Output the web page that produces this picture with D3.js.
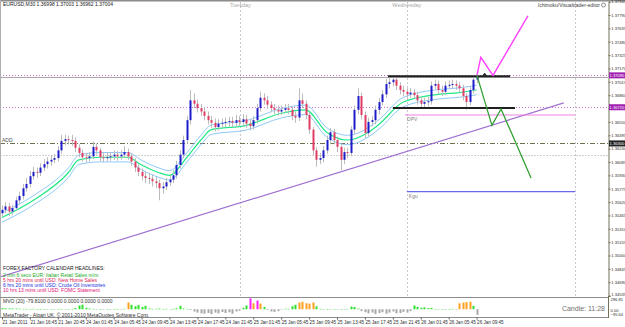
<!DOCTYPE html>
<html>
<head>
<meta charset="utf-8">
<script src="https://cdn.jsdelivr.net/npm/d3@7"></script>
<style>
body { margin: 0; background: #fff; }
svg { display: block; font-family: "Liberation Sans", Arial, sans-serif; }
</style>
</head>
<body>
<svg id="chart" width="625" height="327"></svg>
<script>
// EURUSD,M30 - bar data
var firstOpen = 1.3549;
var closes = [
1.3553,1.3557,1.3551,1.3555,1.3564,1.3569,1.3578,1.3583,1.3592,1.3597,
1.3596,1.3602,1.3606,1.3609,1.3611,1.3613,1.3622,1.3633,1.3635,1.3634,
1.3633,1.3625,1.3619,1.3614,1.3613,1.3615,1.3626,1.3622,1.3614,1.3613,
1.3614,1.3615,1.3617,1.3615,1.3617,1.3620,1.3615,1.3609,1.3602,1.3597,
1.3592,1.3590,1.3589,1.3586,1.3584,1.3578,1.3580,1.3585,1.3588,1.3593,
1.3605,1.3617,1.3634,1.3657,1.3680,1.3676,1.3671,1.3667,1.3662,1.3657,
1.3654,1.3649,1.3653,1.3654,1.3655,1.3656,1.3654,1.3657,1.3655,1.3658,
1.3653,1.3650,1.3657,1.3671,1.3683,1.3680,1.3675,1.3671,1.3669,1.3667,
1.3669,1.3671,1.3669,1.3662,1.3660,1.3680,1.3676,1.3663,1.3646,1.3622,
1.3611,1.3613,1.3622,1.3634,1.3643,1.3634,1.3626,1.3611,1.3620,1.3619,
1.3646,1.3669,1.3685,1.3663,1.3642,1.3655,1.3657,1.3669,1.3678,1.3687,
1.3699,1.3701,1.3704,1.3697,1.3692,1.3690,1.3687,1.3689,1.3686,1.3680,
1.3676,1.3678,1.3679,1.3697,1.3699,1.3692,1.3690,1.3697,1.3698,1.3699,
1.3697,1.3694,1.3685,1.3678,1.3692,1.3704,1.3707];
var highs = [
1.3558,1.3562,1.3561,1.3559,1.3568,1.3574,1.3583,1.3590,1.3598,1.3603,
1.3602,1.3607,1.3612,1.3614,1.3616,1.3618,1.3627,1.3640,1.3640,1.3639,
1.3640,1.3637,1.3629,1.3623,1.3619,1.3620,1.3632,1.3630,1.3625,1.3619,
1.3619,1.3620,1.3622,1.3621,1.3622,1.3627,1.3624,1.3619,1.3613,1.3606,
1.3601,1.3597,1.3596,1.3594,1.3591,1.3588,1.3585,1.3590,1.3593,1.3599,
1.3610,1.3622,1.3639,1.3662,1.3692,1.3688,1.3681,1.3676,1.3672,1.3667,
1.3662,1.3659,1.3658,1.3659,1.3660,1.3661,1.3661,1.3663,1.3662,1.3664,
1.3663,1.3658,1.3662,1.3676,1.3690,1.3688,1.3685,1.3679,1.3676,1.3674,
1.3674,1.3676,1.3676,1.3673,1.3667,1.3694,1.3688,1.3680,1.3667,1.3649,
1.3626,1.3619,1.3627,1.3639,1.3648,1.3647,1.3638,1.3629,1.3625,1.3625,
1.3650,1.3674,1.3694,1.3689,1.3667,1.3660,1.3662,1.3674,1.3683,1.3692,
1.3705,1.3709,1.3709,1.3708,1.3701,1.3697,1.3694,1.3694,1.3693,1.3690,
1.3684,1.3683,1.3684,1.3702,1.3704,1.3703,1.3697,1.3702,1.3703,1.3704,
1.3703,1.3701,1.3698,1.3688,1.3696,1.3708,1.3711];
var lows = [
1.3545,1.3549,1.3546,1.3547,1.3552,1.3560,1.3565,1.3574,1.3579,1.3588,
1.3590,1.3592,1.3598,1.3601,1.3604,1.3607,1.3609,1.3618,1.3628,1.3629,
1.3627,1.3620,1.3614,1.3609,1.3608,1.3609,1.3612,1.3617,1.3609,1.3608,
1.3609,1.3610,1.3611,1.3610,1.3611,1.3613,1.3611,1.3604,1.3597,1.3592,
1.3587,1.3584,1.3583,1.3580,1.3578,1.3564,1.3572,1.3576,1.3581,1.3584,
1.3589,1.3601,1.3613,1.3630,1.3652,1.3671,1.3666,1.3662,1.3657,1.3652,
1.3648,1.3644,1.3645,1.3648,1.3649,1.3650,1.3649,1.3649,1.3650,1.3650,
1.3648,1.3645,1.3646,1.3653,1.3667,1.3675,1.3670,1.3666,1.3664,1.3662,
1.3663,1.3665,1.3664,1.3657,1.3654,1.3656,1.3671,1.3658,1.3641,1.3616,
1.3603,1.3606,1.3608,1.3618,1.3629,1.3629,1.3620,1.3599,1.3606,1.3613,
1.3615,1.3641,1.3664,1.3658,1.3636,1.3638,1.3650,1.3652,1.3664,1.3674,
1.3683,1.3694,1.3696,1.3692,1.3687,1.3685,1.3682,1.3683,1.3681,1.3675,
1.3671,1.3670,1.3673,1.3675,1.3693,1.3687,1.3685,1.3686,1.3693,1.3694,
1.3692,1.3689,1.3680,1.3669,1.3674,1.3688,1.3700];
var opens = [firstOpen].concat(closes.slice(0, -1));

// moving average read at a few bars, envelope deviation in percent
var maBars = [0, 9, 19, 22, 28, 36, 40, 45, 48, 53, 57, 60, 70, 80, 87, 93, 99, 105, 108, 115, 125, 131, 136];
var maValues = [1.3544,1.3564,1.3596,1.3611,1.3614,1.3614,1.3605,1.3596,1.3593,1.3614,1.3634,1.3646,
                1.3651,1.3665,1.3669,1.3643,1.3634,1.3643,1.3652,1.3678,1.3687,1.3689,1.3692];
var envDeviation = 0.04;

// MVO(20) histogram
var mvo = [
30,25,20,22,18,15,12,10,8,12,
6,5,4,-5,3,-8,5,10,-6,4,
8,30,100,120,40,20,10,-10,5,-6,
8,-4,6,10,-5,12,180,120,80,110,
60,90,20,10,15,20,8,12,-6,10,
25,90,20,10,-20,-60,-90,-110,-120,-100,
-130,-90,-110,-70,-100,-80,-120,-60,-40,40,
100,290,160,230,150,60,-20,-60,-70,-50,
-10,15,10,80,120,180,200,160,150,180,
80,10,-8,6,-10,5,-6,8,-5,10,
70,60,20,-50,-80,-110,-90,-130,-100,-80,
-120,-90,-60,-110,-100,-70,-90,-50,100,60,
40,50,30,35,8,-6,5,-8,6,10,
-5,160,180,190,200,90,-150];

// axes
var priceTicks = [1.37945,1.37790,1.37635,1.37480,1.37325,1.37170,1.37015,1.36860,1.36705,1.36550,
                  1.36395,1.36240,1.36085,1.35930,1.35775,1.35620,1.35465,1.35310,1.35155,1.35000,
                  1.34845,1.34690,1.34535];
var timeBars = [0,8,16,24,32,40,48,56,64,72,80,88,96,104,112,120,128,136];
var timeLabels = ["21 Jan 2011","21 Jan 16:45","21 Jan 20:45","24 Jan 01:45","24 Jan 05:45","24 Jan 09:45",
                  "24 Jan 13:45","24 Jan 17:45","24 Jan 21:45","25 Jan 01:45","25 Jan 05:45","25 Jan 09:45",
                  "25 Jan 13:45","25 Jan 17:45","25 Jan 21:45","26 Jan 01:45","26 Jan 05:45","26 Jan 09:45"];
var mvoTicks = [296.81, 0, -95.64];
var daySeps = [68.3, 116, 164.2];
var dayNames = ["Tuesday", "Wednesday", ""];

// drawn objects (bar index, price)
var levelHigh = 1.3709, levelAsk = 1.3707, levelMid = 1.3672;
var levelAdd = 1.3630, levelGrey = 1.3617;
var boxTop = [[110.6, 1.3708], [145.6, 1.3708]];
var boxBottom = [[112, 1.3671], [147, 1.3671]];
var dpvLine = [[115.5, 1.3663], [164.2, 1.3663]];
var kguLine = [[116, 1.3574], [164.2, 1.3574]];
var trendLine = [[-0.6, 1.3475], [161, 1.3677]];
var bullPath = [[136.1, 1.3709], [137.2, 1.3730], [140.7, 1.3709], [150.7, 1.3778]];
var bearPath = [[136.1, 1.3709], [140.4, 1.3651], [143, 1.3670], [151.6, 1.3590]];
var headlines = [
  "2 min 6 secs EUR: Italian Retail Sales m/m",
  "5 hrs 20 mins until USD: New Home Sales",
  "6 hrs 20 mins until USD: Crude Oil Inventories",
  "10 hrs 13 mins until USD: FOMC Statement"];
var headlineColors = ["#22aa22", "#dd2255", "#2233dd", "#dd1177"];

var W = 625, H = 327;
var plotRight = 608, mainTop = 2, mainBottom = 296, subTop = 298, subBottom = 317;

var x = d3.scaleLinear().domain([0, 136]).range([2, 476.6]);
var y = d3.scaleLinear().domain([1.34530, 1.37941]).range([mainBottom, mainTop]);
var yMvo = d3.scaleLinear().domain([-180, 300]).range([subBottom - 1, subTop]);

var svg = d3.select("#chart");

svg.append("rect").attr("width", W).attr("height", H).attr("fill", "#fff");

var main = svg.append("g");
main.append("clipPath").attr("id", "clipMain")
  .append("rect").attr("x", 1).attr("y", mainTop).attr("width", plotRight - 1).attr("height", mainBottom - mainTop);
var plot = main.append("g").attr("clip-path", "url(#clipMain)");

// day separators
plot.selectAll("line.sep").data(daySeps).enter().append("line")
  .attr("class", "sep")
  .attr("x1", function(d) { return Math.round(x(d)) + 0.5; })
  .attr("x2", function(d) { return Math.round(x(d)) + 0.5; })
  .attr("y1", mainTop).attr("y2", mainBottom)
  .attr("stroke", "#c8c8c8").attr("stroke-dasharray", "2,2");
svg.selectAll("text.day").data(daySeps).enter().append("text")
  .attr("x", function(d) { return x(d); })
  .attr("y", 7)
  .attr("text-anchor", "middle")
  .attr("font-size", 5.5).attr("fill", "#a8a8a8")
  .text(function(d, i) { return dayNames[i]; });

// horizontal levels
function hline(price, color, dash, width) {
  plot.append("line")
    .attr("x1", 0).attr("x2", plotRight)
    .attr("y1", Math.round(y(price)) + 0.5).attr("y2", Math.round(y(price)) + 0.5)
    .attr("stroke", color).attr("stroke-width", width || 1)
    .attr("stroke-dasharray", dash);
}
hline(levelGrey, "#d0d0d0", "2,1");
hline(levelAdd, "#6f6f50", "5,2,1,2");
hline(levelMid, "#d070d0", "1,2");
hline(levelAsk, "#a8a8a8", null);
hline(levelHigh, "#d070d0", "1,2");

var seg = d3.line().x(function(d) { return x(d[0]); }).y(function(d) { return y(d[1]); });

plot.append("path").attr("d", seg(trendLine)).attr("fill", "none")
  .attr("stroke", "#a070d0").attr("stroke-width", 1.2);
plot.append("path").attr("d", seg(dpvLine)).attr("fill", "none")
  .attr("stroke", "#f080e8").attr("stroke-width", 1);
plot.append("path").attr("d", seg(kguLine)).attr("fill", "none")
  .attr("stroke", "#6a6af0").attr("stroke-width", 1.2);

plot.append("text").attr("x", 2).attr("y", y(levelAdd) - 1.5)
  .attr("font-size", 5).attr("fill", "#505050").text("ADD");
plot.append("text").attr("x", x(dpvLine[0][0]) + 2).attr("y", y(dpvLine[0][1]) + 6)
  .attr("font-size", 5).attr("fill", "#808080").text("DPV");
plot.append("text").attr("x", x(kguLine[0][0]) + 2).attr("y", y(kguLine[0][1]) + 6)
  .attr("font-size", 5).attr("fill", "#808080").text("Kgu");

// moving average with envelopes
var maLine = d3.line().curve(d3.curveMonotoneX)
  .x(function(d) { return x(d[0]); }).y(function(d) { return y(d[1]); });
var maPts = maBars.map(function(b, i) { return [b, maValues[i]]; });
var upPts = maPts.map(function(d) { return [d[0], d[1] * (1 + envDeviation / 100)]; });
var dnPts = maPts.map(function(d) { return [d[0], d[1] * (1 - envDeviation / 100)]; });
plot.append("path").attr("d", maLine(upPts)).attr("fill", "none").attr("stroke", "#90c8f8");
plot.append("path").attr("d", maLine(dnPts)).attr("fill", "none").attr("stroke", "#90c8f8");
plot.append("path").attr("d", maLine(maPts)).attr("fill", "none").attr("stroke", "#20e888").attr("stroke-width", 1.2);

// candles
var bars = plot.append("g").selectAll("g").data(closes).enter().append("g");
bars.append("line")
  .attr("x1", function(d, i) { return Math.round(x(i)) + 0.5; })
  .attr("x2", function(d, i) { return Math.round(x(i)) + 0.5; })
  .attr("y1", function(d, i) { return y(highs[i]); })
  .attr("y2", function(d, i) { return y(lows[i]); })
  .attr("stroke", "#bcbcbc");
bars.append("rect")
  .attr("x", function(d, i) { return Math.round(x(i)) - 0.5; })
  .attr("y", function(d, i) { return y(Math.max(opens[i], d)); })
  .attr("width", 2)
  .attr("height", function(d, i) { return Math.max(1, Math.abs(y(opens[i]) - y(d))); })
  .attr("fill", function(d, i) { return d >= opens[i] ? "#1c1cc8" : "#e03c64"; });

// box and projections
plot.append("path").attr("d", seg(boxTop)).attr("stroke", "#202020").attr("stroke-width", 2).attr("fill", "none");
plot.append("path").attr("d", seg(boxBottom)).attr("stroke", "#202020").attr("stroke-width", 2).attr("fill", "none");
plot.append("path").attr("d", "M-2.5,1.5 L0,-1.5 L2.5,1.5 Z")
  .attr("transform", "translate(" + [x(138.3), y(boxTop[0][1]) - 2] + ")").attr("fill", "#202020");
plot.append("path").attr("d", seg(bullPath)).attr("fill", "none").attr("stroke", "#ff40ff").attr("stroke-width", 1.4);
plot.append("path").attr("d", seg(bearPath)).attr("fill", "none").attr("stroke", "#34a034").attr("stroke-width", 1.3);

// headlines block
var hl = svg.append("g").attr("font-size", 5);
hl.append("text").attr("x", 3).attr("y", 270).attr("fill", "#202020").text("FOREX FACTORY CALENDAR HEADLINES:");
hl.selectAll("text.h").data(headlines).enter().append("text")
  .attr("x", 3).attr("y", function(d, i) { return 276.5 + i * 5.2; })
  .attr("fill", function(d, i) { return headlineColors[i]; })
  .text(function(d) { return d; });

svg.append("text").attr("x", 3).attr("y", 6).attr("font-size", 5).attr("fill", "#202020")
  .text("EURUSD,M30  1.36998 1.37003 1.36962 1.37004");
svg.append("text").attr("x", 600).attr("y", 7).attr("font-size", 5).attr("text-anchor", "end").attr("fill", "#404040")
  .text("Ichimoku/Visualtrader-editor");
svg.append("circle").attr("cx", 603.5).attr("cy", 5).attr("r", 2).attr("fill", "none").attr("stroke", "#606060").attr("stroke-width", 0.7);

// MVO window
var sub = svg.append("g");
sub.selectAll("rect").data(mvo).enter().append("rect")
  .attr("x", function(d, i) { return Math.round(x(i)) - 0.5; })
  .attr("width", 2)
  .attr("y", function(d) { return yMvo(Math.max(0, d)); })
  .attr("height", function(d) { return Math.max(0.5, Math.abs(yMvo(d) - yMvo(0))); })
  .attr("fill", function(d) {
    if (d < 0) return "#a8a8a8";
    if (d >= 220) return "#ff20ff";
    if (d >= 140) return "#ffa020";
    return "#30e030";
  });
sub.append("text").attr("x", 3).attr("y", 302.5).attr("font-size", 5).attr("fill", "#303030")
  .text("MVO (20) -79.8100 0.0000 0.0000 0.0000 0.0000");
sub.append("text").attr("x", 3).attr("y", 316.5).attr("font-size", 5).attr("fill", "#303030")
  .text("MetaTrader - Alpari UK, \u00a9 2001-2010 MetaQuotes Software Corp.");
sub.append("text").attr("x", 605).attr("y", 311).attr("font-size", 7).attr("text-anchor", "end").attr("fill", "#707070")
  .text("Candle: 11:28");

// frame lines
svg.append("line").attr("x1", 0).attr("x2", W).attr("y1", 0.5).attr("y2", 0.5).attr("stroke", "#8c8c8c").attr("stroke-width", 2);
svg.append("line").attr("x1", 0.5).attr("x2", 0.5).attr("y1", 0).attr("y2", subBottom).attr("stroke", "#b0b0b0");
svg.append("line").attr("x1", 0).attr("x2", plotRight).attr("y1", 297.5).attr("y2", 297.5).attr("stroke", "#8c8c8c");
svg.append("line").attr("x1", 0).attr("x2", plotRight).attr("y1", subBottom + 0.5).attr("y2", subBottom + 0.5).attr("stroke", "#8c8c8c");

// highlighted price tags drawn on the axis
var tags = [[levelHigh, "#a020b0"], [levelMid, "#a020b0"], [levelAdd, "#202020"]];

// price axis
var axisFont = 4.1;
var yAxis = d3.axisRight(y).tickValues(priceTicks).tickFormat(d3.format(".5f")).tickSize(2).tickPadding(0.8);
var gy = svg.append("g").attr("transform", "translate(" + (plotRight + 0.5) + ",0)").call(yAxis);
gy.select(".domain").attr("stroke", "#707058");
gy.selectAll("line").attr("stroke", "#707058");
gy.selectAll("text").attr("font-size", axisFont).attr("fill", "#303030").attr("font-family", "Liberation Sans, Arial");
gy.selectAll(".tick").filter(function(d) { return y(d) > mainBottom - 3; }).select("text").attr("dy", "-0.1em");
// a tag covers the tick label it sits on
gy.selectAll(".tick").filter(function(d) {
  return tags.some(function(t) { return Math.abs(y(t[0]) - y(d)) < 5; });
}).select("text").remove();
svg.append("line").attr("x1", plotRight + 0.5).attr("x2", plotRight + 0.5).attr("y1", mainBottom).attr("y2", subBottom + 1).attr("stroke", "#707058");

var mvoAxis = d3.axisRight(yMvo).tickValues(mvoTicks).tickFormat(d3.format(".2f")).tickSize(0).tickPadding(2);
var gm = svg.append("g").attr("transform", "translate(" + (plotRight + 0.5) + ",1.2)").call(mvoAxis);
gm.select(".domain").remove();
gm.selectAll("text").attr("font-size", axisFont).attr("fill", "#303030").attr("font-family", "Liberation Sans, Arial");

tags.forEach(function(t) {
  svg.append("rect").attr("x", plotRight + 1).attr("y", y(t[0]) - 3).attr("width", 16).attr("height", 6).attr("fill", t[1]);
  svg.append("text").attr("x", plotRight + 1.5).attr("y", y(t[0]) + 1.6).attr("font-size", axisFont).attr("fill", "#fff")
    .text(d3.format(".5f")(t[0]));
});

// time axis
var xAxis = d3.axisBottom(x).tickValues(timeBars).tickSize(2).tickPadding(1)
  .tickFormat(function(d, i) { return timeLabels[i]; });
var gx = svg.append("g").attr("transform", "translate(0," + (subBottom + 0.5) + ")").call(xAxis);
gx.select(".domain").remove();
gx.selectAll("line").attr("stroke", "#606060");
gx.selectAll("text").attr("text-anchor", "start").attr("font-size", 4.6).attr("fill", "#303030")
  .attr("font-family", "Liberation Sans, Arial");
</script>
</body>
</html>
